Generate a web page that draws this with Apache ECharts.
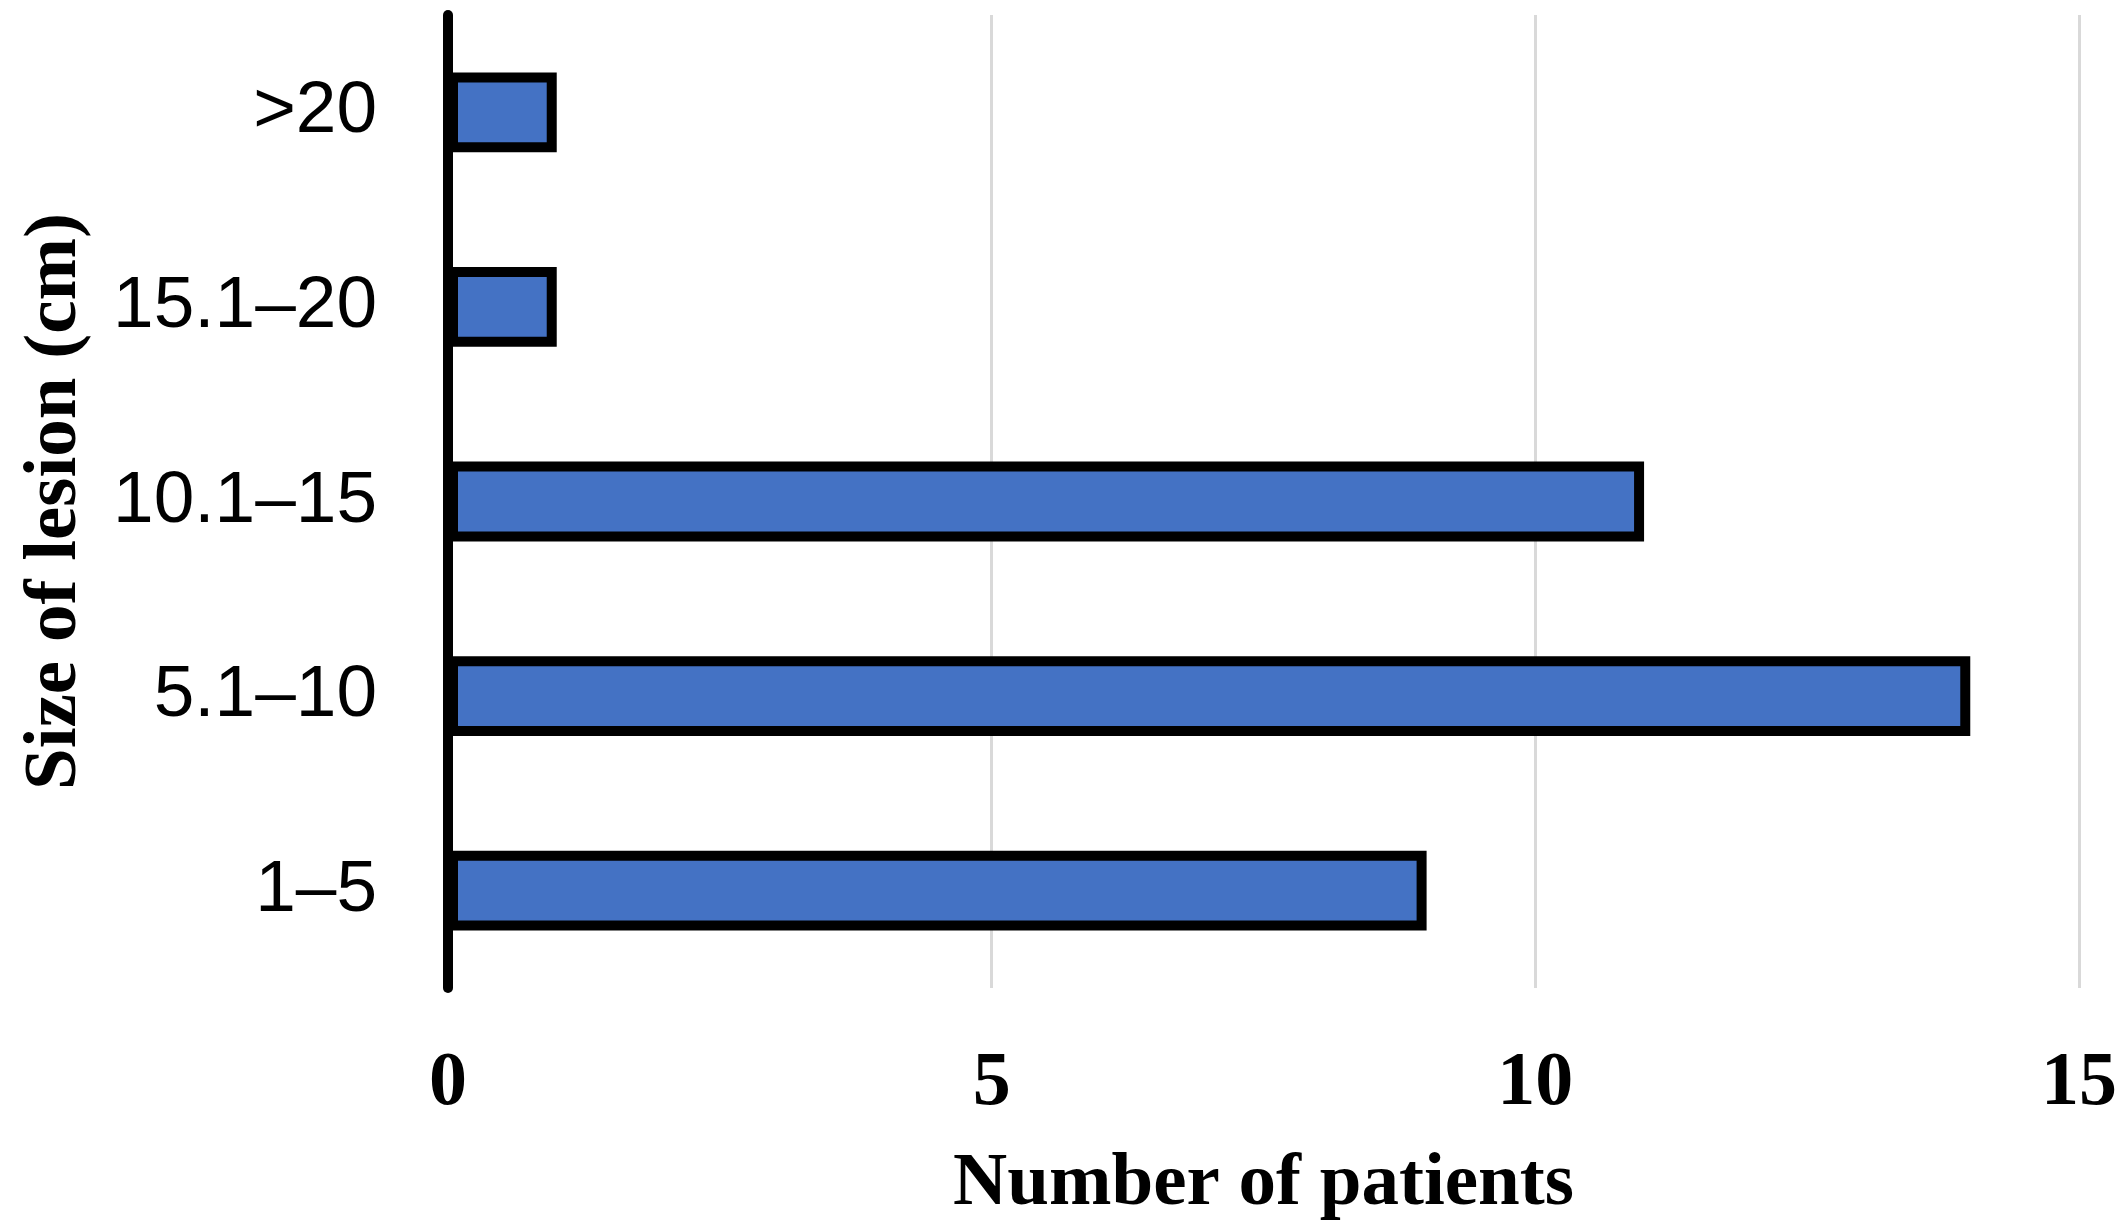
<!DOCTYPE html>
<html>
<head>
<meta charset="utf-8">
<script src="https://cdn.jsdelivr.net/npm/echarts@6/dist/echarts.min.js"></script>
<style>html,body{margin:0;padding:0;background:#fff}#c{width:2120px;height:1227px}</style>
</head>
<body>
<div id="c"></div>
<script>
const categories = ['1–5', '5.1–10', '10.1–15', '15.1–20', '>20'];
const patients = [9, 14, 11, 1, 1];
const xTicks = [0, 5, 10, 15];

const chart = echarts.init(document.getElementById('c'));
chart.setOption({
  backgroundColor: '#ffffff',
  animation: false,
  grid: { left: 448, right: 40, top: 15, bottom: 239 },
  xAxis: {
    type: 'value',
    min: xTicks[0],
    max: xTicks[xTicks.length - 1],
    interval: 5,
    name: 'Number of patients',
    nameLocation: 'middle',
    nameGap: 159,
    nameTextStyle: { fontFamily: 'Liberation Serif', fontWeight: 'bold', fontSize: 75, color: '#000' },
    axisLine: { show: false },
    axisTick: { show: false },
    axisLabel: { margin: 58, fontFamily: 'Liberation Serif', fontWeight: 'bold', fontSize: 76, color: '#000' },
    splitLine: { show: true, lineStyle: { color: '#d9d9d9', width: 3 } }
  },
  yAxis: {
    type: 'category',
    data: categories,
    name: 'Size of lesion (cm)',
    nameLocation: 'middle',
    nameRotate: 90,
    nameGap: 355,
    nameTextStyle: { fontFamily: 'Liberation Serif', fontWeight: 'bold', fontSize: 75, color: '#000' },
    axisLine: { show: true, lineStyle: { color: '#000', width: 10 } },
    axisTick: { show: false },
    axisLabel: { margin: 71, fontFamily: 'Liberation Sans', fontSize: 73, color: '#000' },
    splitLine: { show: false }
  },
  series: [{
    type: 'bar',
    data: patients,
    barWidth: '41%',
    itemStyle: { color: '#4472C4', borderColor: '#000', borderWidth: 10 }
  }]
});
</script>
</body>
</html>
